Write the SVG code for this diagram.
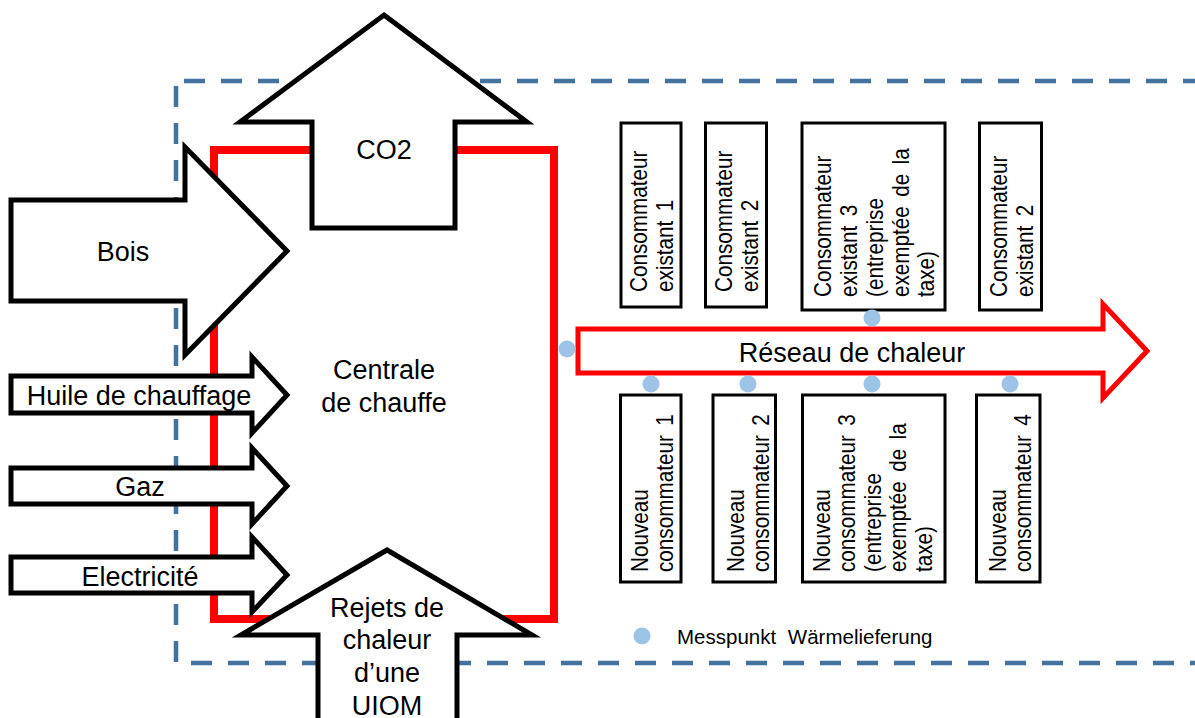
<svg xmlns="http://www.w3.org/2000/svg" width="1195" height="718" viewBox="0 0 1195 718">
<style>
.lbl{font-family:"Liberation Sans",Arial,sans-serif;font-size:27px;fill:#000;text-anchor:middle}
.vt{font-family:"Liberation Sans",Arial,sans-serif;font-size:23px;fill:#000}
.arr{fill:#fff;stroke:#000;stroke-width:5;stroke-linejoin:miter;stroke-miterlimit:10}
.box{fill:#fff;stroke:#000;stroke-width:3}
.dot{fill:#9DC3E6}
</style>
<rect width="1195" height="718" fill="#fff"/>
<g id="boundary">
<rect x="176" y="81" width="1100" height="582" fill="none" stroke="#44729E" stroke-width="4.5" stroke-dasharray="21 16" stroke-dashoffset="-8"/>
</g>
<g id="centrale">
<rect x="214" y="150" width="340" height="469" fill="none" stroke="#FF0000" stroke-width="8"/>
<text class="lbl" x="384" y="379">Centrale</text>
<text class="lbl" x="384" y="412">de chauffe</text>
</g>
<g id="connectors">
<g id="reseau">
<polygon points="578,329 1103,329 1103,304 1147,351 1103,398 1103,373 578,373" fill="#fff" stroke="#FF0000" stroke-width="5"/>
<text class="lbl" x="852" y="362">Réseau de chaleur</text>
</g>
<g id="bois">
<polygon class="arr" points="11,200 185,200 185,147 287,251 185,355 185,301 11,301"/>
<text class="lbl" x="123" y="261">Bois</text>
</g>
<g id="huile">
<polygon class="arr" points="11,376 252,376 252,357 287,395 252,433 252,413 11,413"/>
<text class="lbl" x="139" y="405">Huile de chauffage</text>
</g>
<g id="gaz">
<polygon class="arr" points="11,468 252,468 252,448 287,486 252,524 252,504 11,504"/>
<text class="lbl" x="140" y="496">Gaz</text>
</g>
<g id="electricite">
<polygon class="arr" points="11,557 252,557 252,537 287,575 252,612 252,593 11,593"/>
<text class="lbl" x="140" y="586">Electricité</text>
</g>
<g id="co2">
<polygon class="arr" points="384,15 527,122 455,122 455,228 312,228 312,122 240,122"/>
<text class="lbl" x="384" y="159">CO2</text>
</g>
<g id="rejets">
<polygon class="arr" points="387,550 532,635 457,635 457,730 318,730 318,635 241,635"/>
<text class="lbl" x="387" y="617">Rejets de</text>
<text class="lbl" x="387" y="649">chaleur</text>
<text class="lbl" x="387" y="682">d’une</text>
<text class="lbl" x="387" y="715">UIOM</text>
</g>
</g>
<g id="existant1">
<rect class="box" x="621" y="123" width="60" height="184"/>
<text class="vt" transform="translate(647,292) rotate(-90) scale(0.9,1)" word-spacing="4"><tspan x="0" y="0">Consommateur</tspan><tspan x="0" y="26">existant 1</tspan></text>
</g>
<g id="existant2">
<rect class="box" x="705.5" y="123" width="61" height="184"/>
<text class="vt" transform="translate(732,292) rotate(-90) scale(0.9,1)" word-spacing="4"><tspan x="0" y="0">Consommateur</tspan><tspan x="0" y="26">existant 2</tspan></text>
</g>
<g id="existant3">
<rect class="box" x="802" y="123" width="143" height="187"/>
<text class="vt" transform="translate(831,297) rotate(-90) scale(0.9,1)" word-spacing="4"><tspan x="0" y="0">Consommateur</tspan><tspan x="0" y="26">existant 3</tspan><tspan x="0" y="52">(entreprise</tspan><tspan x="0" y="78">exemptée de la</tspan><tspan x="0" y="103">taxe)</tspan></text>
</g>
<g id="existant4">
<rect class="box" x="979.5" y="123" width="62" height="187"/>
<text class="vt" transform="translate(1007,297) rotate(-90) scale(0.9,1)" word-spacing="4"><tspan x="0" y="0">Consommateur</tspan><tspan x="0" y="26">existant 2</tspan></text>
</g>
<g id="nouveau1">
<rect class="box" x="620.5" y="395" width="60.5" height="187"/>
<text class="vt" transform="translate(648,572) rotate(-90) scale(0.9,1)" word-spacing="4"><tspan x="0" y="0">Nouveau</tspan><tspan x="0" y="25">consommateur 1</tspan></text>
</g>
<g id="nouveau2">
<rect class="box" x="713" y="395" width="62.5" height="187"/>
<text class="vt" transform="translate(744,572) rotate(-90) scale(0.9,1)" word-spacing="4"><tspan x="0" y="0">Nouveau</tspan><tspan x="0" y="25">consommateur 2</tspan></text>
</g>
<g id="nouveau3">
<rect class="box" x="802.5" y="395" width="142.5" height="187"/>
<text class="vt" transform="translate(830,572) rotate(-90) scale(0.9,1)" word-spacing="4"><tspan x="0" y="0">Nouveau</tspan><tspan x="0" y="25.5">consommateur 3</tspan><tspan x="0" y="51">(entreprise</tspan><tspan x="0" y="76.5">exemptée de la</tspan><tspan x="0" y="102">taxe)</tspan></text>
</g>
<g id="nouveau4">
<rect class="box" x="976.5" y="395" width="63.5" height="187"/>
<text class="vt" transform="translate(1006,572) rotate(-90) scale(0.9,1)" word-spacing="4"><tspan x="0" y="0">Nouveau</tspan><tspan x="0" y="25">consommateur 4</tspan></text>
</g>
<g id="messpunkte">
<circle class="dot" cx="567" cy="349" r="8.5"/>
<circle class="dot" cx="872" cy="318" r="8.5"/>
<circle class="dot" cx="651" cy="384" r="8.5"/>
<circle class="dot" cx="748" cy="384" r="8.5"/>
<circle class="dot" cx="872" cy="384" r="8.5"/>
<circle class="dot" cx="1010" cy="384" r="8.5"/>
</g>
<g id="legend">
<circle class="dot" cx="642" cy="636" r="8.5"/>
<text x="677" y="644" font-family="Liberation Sans, Arial, sans-serif" font-size="20.5" word-spacing="6" fill="#000">Messpunkt Wärmelieferung</text>
</g>
</svg>
